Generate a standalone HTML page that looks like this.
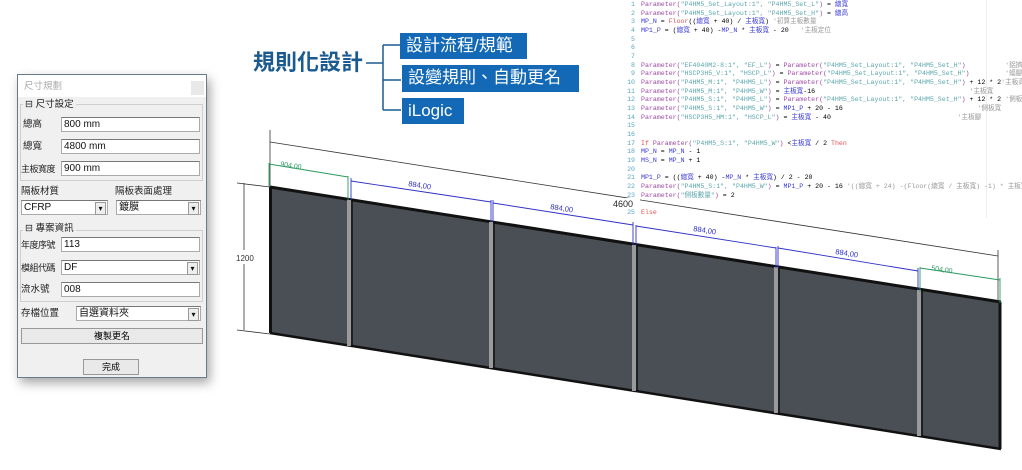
<!DOCTYPE html>
<html><head><meta charset="utf-8">
<style>
*{margin:0;padding:0;box-sizing:border-box}
body{width:1022px;height:470px;background:#fff;position:relative;overflow:hidden;font-family:"Liberation Sans","Noto Sans CJK TC",sans-serif}
.a{position:absolute}
.dlg{left:17px;top:74px;width:190px;height:304px;background:#f0f0f0;border:1px solid #6b7a8a;box-shadow:3px 5px 10px rgba(0,0,0,.35)}
.t{font-size:9.5px;line-height:12px;color:#222;position:absolute;white-space:nowrap;font-family:"Liberation Sans","Noto Sans CJK TC",sans-serif}
.in{position:absolute;background:#fff;border:1px solid #aaa;border-top-color:#777;font-size:10px;padding-left:2px;line-height:13px;color:#111}
.cb::after{content:"▾";position:absolute;right:1px;top:1px;width:9px;height:11px;font-size:8px;line-height:11px;text-align:center;background:#eee;border:1px solid #999}
.grp{position:absolute;border:1px solid #cfcfcf}
.btn{position:absolute;background:#e9e9e9;border:1px solid #999;font-size:9px;text-align:center;line-height:14px}
.code{position:absolute;left:622px;top:0;width:365px;height:218px;font-family:"Liberation Mono","Noto Sans CJK TC",monospace;font-size:6.6px;line-height:8px;border-right:1px solid #eee}
.ln{position:absolute;left:0;width:13px;text-align:right;color:#5aa7c2;line-height:8px;height:8px}
.cl{position:absolute;left:19px;white-space:pre;line-height:8px;height:8px}
.p{color:#a04aa8}.s{color:#5aa6ad}.b{color:#3a3ad8}.r{color:#e05050}.c{color:#999}.k{color:#333}
.box{position:absolute;background:#1369b5;color:#fff;font-size:17px;padding-left:6px;line-height:26px;font-family:"Liberation Sans","Noto Sans CJK TC",sans-serif}
</style></head><body>

<!-- dialog -->
<div class="a dlg">
  <div class="a" style="left:0;top:0;width:188px;height:22px;background:#fff"></div>
  <div class="t" style="left:6px;top:6px;color:#aaa">尺寸規劃</div>
  <div class="a" style="left:173px;top:6px;width:13px;height:14px;background:#e8e8e8"></div>
  <div class="grp" style="left:2px;top:29px;width:183px;height:77px"></div>
  <div class="t" style="left:5px;top:24px;background:#f0f0f0;padding:0 2px">⊟ 尺寸設定</div>
  <div class="t" style="left:5px;top:44px">總高</div>
  <div class="in" style="left:43px;top:42px;width:139px;height:15px">800 mm</div>
  <div class="t" style="left:5px;top:66px">總寬</div>
  <div class="in" style="left:43px;top:64px;width:139px;height:15px">4800 mm</div>
  <div class="t" style="left:3px;top:88px;font-size:9px;letter-spacing:-0.5px">主板寬度</div>
  <div class="in" style="left:43px;top:86px;width:139px;height:15px">900 mm</div>
  <div class="t" style="left:3px;top:111px">隔板材質</div>
  <div class="t" style="left:97px;top:111px">隔板表面處理</div>
  <div class="in cb" style="left:3px;top:125px;width:87px;height:15px">CFRP</div>
  <div class="in cb" style="left:98px;top:125px;width:85px;height:15px">鍍膜</div>
  <div class="grp" style="left:2px;top:155px;width:183px;height:72px"></div>
  <div class="t" style="left:5px;top:148px;background:#f0f0f0;padding:0 2px">⊟ 專案資訊</div>
  <div class="t" style="left:3px;top:164px;font-size:9px;letter-spacing:-0.5px">年度序號</div>
  <div class="in" style="left:43px;top:162px;width:139px;height:15px">113</div>
  <div class="t" style="left:3px;top:187px;font-size:9px;letter-spacing:-0.5px">模組代碼</div>
  <div class="in cb" style="left:43px;top:185px;width:139px;height:15px">DF</div>
  <div class="t" style="left:3px;top:209px">流水號</div>
  <div class="in" style="left:43px;top:207px;width:139px;height:15px">008</div>
  <div class="t" style="left:3px;top:233px">存檔位置</div>
  <div class="in cb" style="left:58px;top:231px;width:125px;height:15px">自選資料夾</div>
  <div class="btn" style="left:3px;top:253px;width:182px;height:16px">複製更名</div>
  <div class="btn" style="left:65px;top:284px;width:56px;height:16px">完成</div>
</div>

<!-- title tree -->
<div class="t" style="left:253px;top:49px;font-size:22px;line-height:28px;font-weight:bold;color:#1b5a8f">規則化設計</div>
<svg class="a" style="left:0;top:0" width="1022" height="470">
 <g stroke="#1b5a8f" stroke-width="1.5" fill="none">
  <path d="M366 63 H383 M383 45 V110 M383 45 H400 M383 80 H401 M383 110 H401"/>
 </g>
</svg>
<div class="box" style="left:400px;top:33px;width:127px;height:26px">設計流程/規範</div>
<div class="box" style="left:402px;top:65px;width:177px;height:27px">設變規則、自動更名</div>
<div class="box" style="left:402px;top:98px;width:62px;height:26px">iLogic</div>

<!-- code -->
<div class="code">
<div class="ln" style="top:1px">1</div><div class="cl" style="top:1px"><span class="p">Parameter(</span><span class="s">"P4HM5_Set_Layout:1", "P4HM5_Set_L"</span><span class="p">)</span> = <span class="b">總寬</span></div>
<div class="ln" style="top:10px">2</div><div class="cl" style="top:10px"><span class="p">Parameter(</span><span class="s">"P4HM5_Set_Layout:1", "P4HM5_Set_H"</span><span class="p">)</span> = <span class="b">總高</span></div>
<div class="ln" style="top:18px">3</div><div class="cl" style="top:18px"><span class="b">MP_N</span> = <span class="r">Floor</span>((<span class="b">總寬</span> + 40) / <span class="b">主板寬</span>) <span class="c">'初算主板數量</span></div>
<div class="ln" style="top:27px">4</div><div class="cl" style="top:27px"><span class="b">MP1_P</span> = (<span class="b">總寬</span> + 40) -<span class="b">MP_N</span> * <span class="b">主板寬</span> - 20   <span class="c">'主板定位</span></div>
<div class="ln" style="top:36px">5</div><div class="ln" style="top:44px">6</div><div class="ln" style="top:53px">7</div>
<div class="ln" style="top:62px">8</div><div class="cl" style="top:62px"><span class="p">Parameter(</span><span class="s">"EF4040M2-8:1", "EF_L"</span><span class="p">)</span> = <span class="p">Parameter(</span><span class="s">"P4HM5_Set_Layout:1", "P4HM5_Set_H"</span><span class="p">)</span>          <span class="c">'鋁擠型長</span></div>
<div class="ln" style="top:70px">9</div><div class="cl" style="top:70px"><span class="p">Parameter(</span><span class="s">"HSCP3H5_V:1", "HSCP_L"</span><span class="p">)</span> = <span class="p">Parameter(</span><span class="s">"P4HM5_Set_Layout:1", "P4HM5_Set_H"</span><span class="p">)</span>         <span class="c">'蝠腳條長</span></div>
<div class="ln" style="top:79px">10</div><div class="cl" style="top:79px"><span class="p">Parameter(</span><span class="s">"P4HM5_M:1", "P4HM5_L"</span><span class="p">)</span> = <span class="p">Parameter(</span><span class="s">"P4HM5_Set_Layout:1", "P4HM5_Set_H"</span><span class="p">)</span> + 12 * 2<span class="c">'主板高</span></div>
<div class="ln" style="top:88px">11</div><div class="cl" style="top:88px"><span class="p">Parameter(</span><span class="s">"P4HM5_M:1", "P4HM5_W"</span><span class="p">)</span> = <span class="b">主板寬</span>-16                                       <span class="c">'主板寬</span></div>
<div class="ln" style="top:96px">12</div><div class="cl" style="top:96px"><span class="p">Parameter(</span><span class="s">"P4HM5_S:1", "P4HM5_L"</span><span class="p">)</span> = <span class="p">Parameter(</span><span class="s">"P4HM5_Set_Layout:1", "P4HM5_Set_H"</span><span class="p">)</span> + 12 * 2 <span class="c">'側板高</span></div>
<div class="ln" style="top:105px">13</div><div class="cl" style="top:105px"><span class="p">Parameter(</span><span class="s">"P4HM5_S:1", "P4HM5_W"</span><span class="p">)</span> = <span class="b">MP1_P</span> + 20 - 16                                  <span class="c">'側板寬</span></div>
<div class="ln" style="top:114px">14</div><div class="cl" style="top:114px"><span class="p">Parameter(</span><span class="s">"HSCP3H5_HM:1", "HSCP_L"</span><span class="p">)</span> = <span class="b">主板寬</span> - 40                                <span class="c">'主板腳</span></div>
<div class="ln" style="top:122px">15</div><div class="ln" style="top:131px">16</div>
<div class="ln" style="top:140px">17</div><div class="cl" style="top:140px"><span class="r">If</span> <span class="p">Parameter(</span><span class="s">"P4HM5_S:1", "P4HM5_W"</span><span class="p">)</span> &lt;<span class="b">主板寬</span> / 2 <span class="r">Then</span></div>
<div class="ln" style="top:148px">18</div><div class="cl" style="top:148px"><span class="b">MP_N</span> = <span class="b">MP_N</span> - 1</div>
<div class="ln" style="top:157px">19</div><div class="cl" style="top:157px"><span class="b">MS_N</span> = <span class="b">MP_N</span> + 1</div>
<div class="ln" style="top:166px">20</div>
<div class="ln" style="top:174px">21</div><div class="cl" style="top:174px"><span class="b">MP1_P</span> = ((<span class="b">總寬</span> + 40) -<span class="b">MP_N</span> * <span class="b">主板寬</span>) / 2 - 20</div>
<div class="ln" style="top:183px">22</div><div class="cl" style="top:183px"><span class="p">Parameter(</span><span class="s">"P4HM5_S:1", "P4HM5_W"</span><span class="p">)</span> = <span class="b">MP1_P</span> + 20 - 16 <span class="c">'((總寬 + 24) -(Floor(總寬 / 主板寬) -1) * 主板寬</span></div>
<div class="ln" style="top:192px">23</div><div class="cl" style="top:192px"><span class="p">Parameter(</span><span class="s">"側板數量"</span><span class="p">)</span> = 2</div>
<div class="ln" style="top:200px">24</div>
<div class="ln" style="top:209px">25</div><div class="cl" style="top:209px"><span class="r">Else</span></div>
</div>

<!-- 3D panel drawing -->
<svg class="a" style="left:0;top:0" width="1022" height="470" font-family="Liberation Sans" font-size="9">
 <polygon points="270,187 1001,302 1001,449 270,333" fill="#4a4f55"/>
 <polyline points="270,187 1001,302" stroke="#111" stroke-width="3" fill="none"/>
 <polyline points="270,333 1001,449" stroke="#111" stroke-width="2.5" fill="none"/>
 <line x1="270.5" y1="187" x2="270.5" y2="333" stroke="#111" stroke-width="3"/>
 <line x1="1000" y1="302" x2="1000" y2="449" stroke="#111" stroke-width="3"/>
 <g stroke-width="4" stroke="#9a9a9a">
  <line x1="349" y1="200" x2="349" y2="346"/>
  <line x1="491" y1="222" x2="491" y2="368"/>
  <line x1="634" y1="245" x2="634" y2="391"/>
  <line x1="776" y1="267" x2="776" y2="413"/>
  <line x1="919" y1="290" x2="919" y2="436"/>
 </g>
 <g stroke="#111" stroke-width="1.5">
  <line x1="352" y1="200" x2="352" y2="347"/><line x1="494" y1="223" x2="494" y2="369"/>
  <line x1="637" y1="245" x2="637" y2="391"/><line x1="779" y1="268" x2="779" y2="414"/>
  <line x1="922" y1="290" x2="922" y2="437"/>
 </g>
 <g stroke="#333" stroke-width="0.8">
  <line x1="270" y1="130" x2="270" y2="187"/>
  <line x1="998" y1="250" x2="998" y2="302"/>
  <line x1="270" y1="142" x2="998" y2="256"/>
  <line x1="237" y1="183" x2="270" y2="187"/>
  <line x1="237" y1="330" x2="270" y2="334"/>
  <line x1="244" y1="183" x2="244" y2="250"/>
  <line x1="244" y1="264" x2="244" y2="330"/>
 </g>
 <rect x="612" y="198" width="28" height="11" fill="#fff"/>
 <text x="613" y="207" fill="#222" font-size="9">4600</text>
 <text x="236" y="261" fill="#333" font-size="8">1200</text>
 <g stroke="#2a9a60" stroke-width="0.9">
  <line x1="269" y1="163" x2="269" y2="187"/><line x1="348" y1="176" x2="348" y2="200"/>
  <line x1="269" y1="164" x2="348" y2="177"/>
  <line x1="920" y1="267" x2="920" y2="292"/><line x1="1000" y1="278" x2="1000" y2="303"/>
  <line x1="920" y1="268" x2="1000" y2="280"/>
 </g>
 <text x="280" y="166" fill="#2a9a60" font-size="7" transform="rotate(9 280 166)">904,00</text>
 <text x="931" y="270" fill="#2a9a60" font-size="7" transform="rotate(9 931 270)">504,00</text>
 <g stroke="#3030c8" stroke-width="0.9">
  <line x1="351" y1="178" x2="351" y2="200"/><line x1="491" y1="200" x2="491" y2="222"/>
  <line x1="351" y1="181" x2="491" y2="202"/>
  <line x1="493" y1="200" x2="493" y2="222"/><line x1="633" y1="222" x2="633" y2="245"/>
  <line x1="493" y1="203" x2="633" y2="225"/>
  <line x1="636" y1="225" x2="636" y2="245"/><line x1="776" y1="247" x2="776" y2="268"/>
  <line x1="636" y1="226" x2="776" y2="248"/>
  <line x1="778" y1="246" x2="778" y2="268"/><line x1="918" y1="268" x2="918" y2="290"/>
  <line x1="778" y1="248" x2="918" y2="271"/>
 </g>
 <g fill="#3030c8" font-size="7.5">
  <text x="408" y="186" transform="rotate(9 408 186)">884,00</text>
  <text x="550" y="209" transform="rotate(9 550 209)">884,00</text>
  <text x="693" y="231" transform="rotate(9 693 231)">884,00</text>
  <text x="835" y="254" transform="rotate(9 835 254)">884,00</text>
 </g>
</svg>
</body></html>
